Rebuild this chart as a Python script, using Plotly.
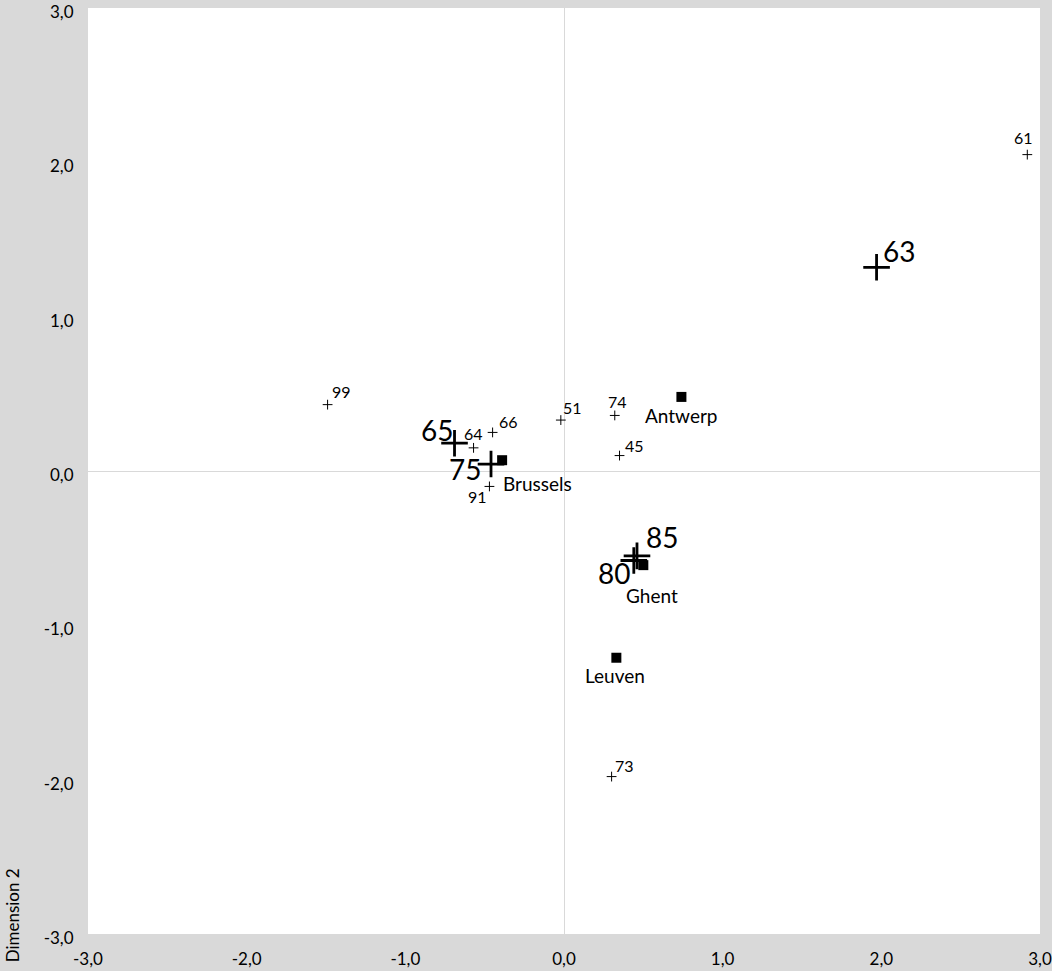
import plotly.graph_objects as go

# Small year markers
small_labels = ["61", "99", "64", "66", "91", "51", "74", "45", "73"]
small_x = [2.92, -1.49, -0.57, -0.45, -0.47, -0.02, 0.32, 0.35, 0.30]
small_y = [2.05, 0.43, 0.15, 0.25, -0.10, 0.33, 0.36, 0.10, -1.98]

# Large year markers
large_labels = ["63", "65", "75", "85", "80"]
large_x = [1.97, -0.69, -0.46, 0.46, 0.44]
large_y = [1.32, 0.18, 0.045, -0.55, -0.58]

# Cities
city_labels = ["Antwerp", "Brussels", "Ghent", "Leuven"]
city_x = [0.74, -0.39, 0.50, 0.33]
city_y = [0.48, 0.07, -0.61, -1.21]

# Axis ticks
tick_vals = [-3, -2, -1, 0, 1, 2, 3]
tick_text = ["-3,0", "-2,0", "-1,0", "0,0", "1,0", "2,0", "3,0"]

# label offsets in pixels (style only)
small_off = [(-4, 17), (14, 13), (0, 14), (16, 11), (-12, -10), (12, 13), (3, 14), (15, 10), (13, 11)]
large_off = [(22, 16), (-18, 13), (-26, -5), (25, 19), (-20, -12)]
city_off = [(0, -19), (35, -23), (9, -30), (-1, -18)]

FONT = "Lato"

fig = go.Figure()
fig.add_trace(go.Scatter(
    x=small_x, y=small_y, mode="markers",
    marker=dict(symbol="cross-thin", size=7, line=dict(width=1, color="black"), color="black"),
    showlegend=False, hoverinfo="skip"))
fig.add_trace(go.Scatter(
    x=large_x, y=large_y, mode="markers",
    marker=dict(symbol="cross-thin", size=19, line=dict(width=2.8, color="black"), color="black"),
    showlegend=False, hoverinfo="skip"))
fig.add_trace(go.Scatter(
    x=city_x, y=city_y, mode="markers",
    marker=dict(symbol="square", size=10, color="black"),
    showlegend=False, hoverinfo="skip"))

annotations = []
def add_labels(labels, xs, ys, offs, size):
    for t, x, y, (dx, dy) in zip(labels, xs, ys, offs):
        annotations.append(dict(
            x=x, y=y, xref="x", yref="y", text=t, showarrow=False,
            xanchor="center", yanchor="middle", xshift=dx, yshift=dy,
            font=dict(family=FONT, size=size, color="black")))

add_labels(small_labels, small_x, small_y, small_off, 16)
add_labels(large_labels, large_x, large_y, large_off, 28)
add_labels(city_labels, city_x, city_y, city_off, 19)

annotations.append(dict(
    text="Dimension 2", xref="paper", yref="paper", x=-0.079, y=-0.033,
    xanchor="center", yanchor="bottom", textangle=-90, showarrow=False,
    font=dict(family=FONT, size=17, color="black")))

axis_common = dict(
    range=[-3, 3], tickmode="array", tickvals=tick_vals, ticktext=tick_text,
    showgrid=False, zeroline=True, zerolinecolor="#d9d9d9", zerolinewidth=1,
    showline=False, ticks="outside", ticklen=10, tickcolor="rgba(0,0,0,0)",
    tickfont=dict(family=FONT, size=17, color="black"), automargin=False,
    ticklabeloverflow="allow",
)
fig.update_layout(
    width=1052, height=971,
    paper_bgcolor="#d9d9d9", plot_bgcolor="white",
    margin=dict(l=88, r=12, t=8, b=37, autoexpand=False),
    xaxis=dict(**axis_common),
    yaxis=dict(**axis_common, ticklabelshift=4),
    annotations=annotations,
)
fig.write_html("out.html", config={"displayModeBar": False},
               post_script="document.body.style.margin='0';document.body.style.background='#d9d9d9';document.body.style.overflow='hidden';")
